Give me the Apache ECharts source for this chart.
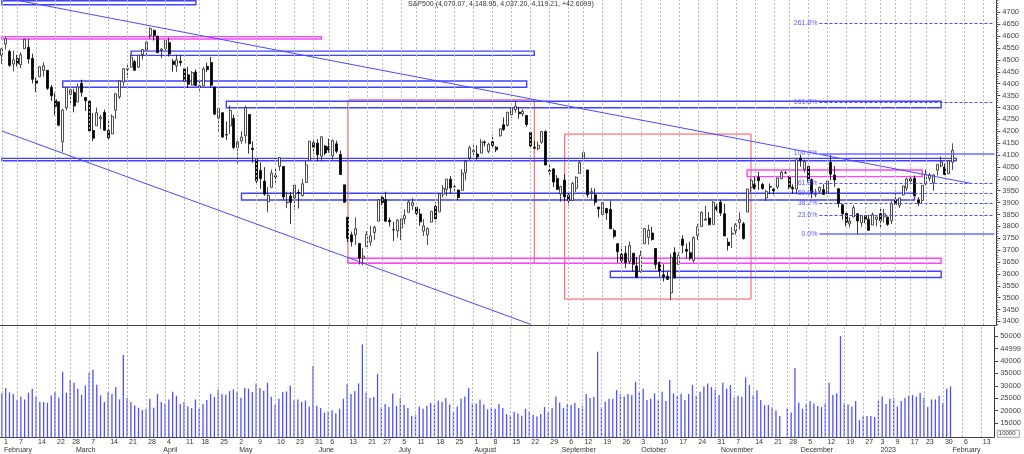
<!DOCTYPE html>
<html>
<head>
<meta charset="utf-8">
<script src="https://cdn.jsdelivr.net/npm/echarts@6/dist/echarts.min.js"></script>
<style>
  html, body { margin: 0; padding: 0; background: #fff; }
  #chart { width: 1024px; height: 454px; }
</style>
</head>
<body>
<div id="chart"></div>
<script>
// trading calendar: weekdays from first to last day minus exchange holidays
// (2023-01-12 is missing in the data feed of the original chart)
const firstDay = '2022-02-01';
const lastDay = '2023-02-16';
const closedDays = ['2022-02-21', '2022-04-15', '2022-05-30', '2022-06-20', '2022-07-04', '2022-09-05',
  '2022-11-24', '2022-12-26', '2023-01-02', '2023-01-16', '2023-01-12'];
const monthNames = ['January', 'February', 'March', 'April', 'May', 'June', 'July', 'August',
  'September', 'October', 'November', 'December'];

// S&P500 daily candles [open, high, low, close]
const candles = [
  // Feb 2022
  [4519.6, 4550.5, 4483.5, 4546.5], [4566.4, 4595.3, 4544.3, 4589.4], [4535.4, 4542.9, 4470.4, 4477.4], [4482.8, 4539.7, 4451.5, 4500.5],
  [4505.8, 4521.9, 4471.5, 4483.9], [4480.0, 4531.3, 4465.4, 4521.5], [4547.0, 4590.0, 4547.0, 4587.2], [4553.2, 4588.9, 4484.3, 4504.1],
  [4506.3, 4526.3, 4401.4, 4418.6], [4412.6, 4426.2, 4364.8, 4401.7], [4429.3, 4472.8, 4429.3, 4471.1], [4455.8, 4489.6, 4429.7, 4475.0],
  [4456.1, 4456.1, 4373.8, 4380.3], [4384.6, 4394.6, 4327.2, 4348.9], [4332.7, 4362.1, 4267.1, 4304.8], [4324.0, 4324.0, 4221.5, 4225.5],
  [4155.8, 4294.7, 4114.7, 4288.7], [4298.4, 4385.3, 4286.8, 4384.7], [4354.2, 4388.8, 4315.1, 4373.9],
  // Mar
  [4363.1, 4378.5, 4279.5, 4306.3], [4322.6, 4401.5, 4322.6, 4386.5], [4401.3, 4416.8, 4345.6, 4363.5], [4342.1, 4342.1, 4285.0, 4328.9],
  [4327.0, 4327.0, 4199.9, 4201.1], [4202.7, 4276.9, 4157.9, 4170.7], [4223.1, 4299.4, 4223.1, 4277.9], [4252.6, 4268.3, 4209.8, 4259.5],
  [4279.5, 4291.0, 4200.5, 4204.3], [4202.8, 4247.6, 4161.7, 4173.1], [4188.8, 4271.1, 4187.9, 4262.5], [4288.1, 4358.9, 4252.0, 4357.9],
  [4345.1, 4412.7, 4335.7, 4411.7], [4407.3, 4465.4, 4390.6, 4463.1], [4462.4, 4481.8, 4424.3, 4461.2], [4469.1, 4522.0, 4469.1, 4511.6],
  [4493.1, 4501.1, 4455.8, 4456.2], [4470.0, 4520.6, 4465.2, 4520.2], [4522.7, 4546.0, 4501.1, 4543.1], [4541.1, 4575.7, 4517.7, 4575.5],
  [4602.9, 4637.3, 4589.7, 4631.6], [4624.2, 4627.8, 4581.3, 4602.5], [4599.0, 4603.1, 4530.4, 4530.4],
  // Apr
  [4540.3, 4548.7, 4507.6, 4545.9], [4548.0, 4583.5, 4539.2, 4582.6], [4572.5, 4593.5, 4514.2, 4525.1], [4494.2, 4503.9, 4450.0, 4481.2],
  [4474.7, 4521.2, 4450.3, 4500.2], [4494.2, 4520.4, 4474.6, 4488.3], [4462.6, 4464.4, 4408.4, 4412.5], [4437.6, 4471.0, 4381.3, 4397.5],
  [4394.3, 4453.9, 4392.7, 4446.6], [4449.1, 4460.5, 4390.8, 4392.6], [4385.6, 4410.3, 4370.3, 4391.7], [4390.6, 4471.0, 4390.6, 4462.2],
  [4472.3, 4488.3, 4448.8, 4459.5], [4489.2, 4512.9, 4384.5, 4393.7], [4385.8, 4385.8, 4267.6, 4271.8], [4255.3, 4299.0, 4200.8, 4296.1],
  [4278.1, 4278.1, 4175.0, 4175.2], [4186.5, 4240.7, 4162.9, 4184.0], [4222.6, 4308.5, 4188.6, 4287.5], [4253.8, 4269.7, 4124.3, 4131.9],
  // May
  [4130.6, 4169.8, 4062.5, 4155.4], [4159.8, 4200.1, 4147.1, 4175.5], [4181.2, 4307.7, 4148.9, 4300.2], [4270.4, 4270.4, 4106.0, 4146.9],
  [4128.2, 4157.7, 4067.9, 4123.3], [4081.3, 4081.3, 3975.5, 3991.2], [4035.2, 4068.8, 3958.2, 4001.1], [3990.1, 4049.1, 3928.8, 3935.2],
  [3904.0, 3964.8, 3858.9, 3930.1], [3963.9, 4038.9, 3963.9, 4023.9], [4013.0, 4046.5, 3984.0, 4008.0], [4052.0, 4090.7, 4033.9, 4088.9],
  [4052.0, 4052.0, 3911.9, 3923.7], [3899.0, 3946.0, 3876.6, 3900.8], [3927.8, 3943.4, 3810.3, 3901.4], [3919.4, 3975.5, 3868.9, 3973.8],
  [3942.9, 3955.7, 3875.1, 3941.5], [3929.6, 3999.3, 3925.0, 3978.7], [3984.6, 4075.1, 3984.6, 4057.8], [4077.4, 4158.5, 4077.4, 4158.2],
  [4151.1, 4168.3, 4104.9, 4132.2],
  // Jun
  [4149.8, 4166.5, 4073.9, 4101.2], [4095.4, 4177.5, 4074.4, 4176.8], [4137.6, 4142.7, 4098.7, 4108.5], [4134.7, 4168.8, 4109.2, 4121.4],
  [4096.5, 4164.9, 4080.2, 4160.7], [4147.1, 4160.1, 4107.2, 4115.8], [4101.7, 4119.1, 4017.2, 4017.8], [3974.4, 3974.4, 3900.2, 3900.9],
  [3838.2, 3838.2, 3734.3, 3749.6], [3764.1, 3778.2, 3715.3, 3735.5], [3764.1, 3837.6, 3722.3, 3790.0], [3728.2, 3728.2, 3639.8, 3666.8],
  [3665.9, 3707.7, 3636.9, 3674.8], [3715.3, 3779.7, 3715.3, 3764.8], [3733.9, 3801.8, 3717.7, 3759.9], [3774.7, 3802.6, 3743.5, 3795.7],
  [3821.8, 3913.7, 3821.8, 3911.7], [3920.8, 3927.7, 3889.7, 3900.1], [3913.0, 3945.9, 3820.1, 3821.6], [3825.1, 3836.5, 3799.0, 3818.8],
  [3786.0, 3819.0, 3738.7, 3785.4],
  // Jul
  [3781.0, 3829.8, 3752.1, 3825.3], [3792.6, 3832.2, 3742.1, 3831.4], [3832.0, 3870.9, 3809.4, 3845.1], [3858.9, 3910.6, 3858.9, 3902.6],
  [3888.3, 3918.5, 3869.3, 3899.4], [3880.9, 3880.9, 3847.2, 3854.4], [3852.0, 3873.4, 3802.4, 3818.8], [3779.7, 3829.4, 3759.1, 3801.8],
  [3764.0, 3796.4, 3721.6, 3790.4], [3818.0, 3863.6, 3817.2, 3863.2], [3883.8, 3902.4, 3818.6, 3830.9], [3860.7, 3939.8, 3860.7, 3936.7],
  [3935.3, 3974.1, 3922.0, 3959.9], [3955.5, 3999.3, 3927.6, 3999.0], [3998.4, 4012.4, 3938.9, 3961.6], [3965.7, 3975.3, 3943.5, 3966.8],
  [3953.2, 3953.2, 3910.7, 3921.1], [3951.4, 4039.6, 3951.4, 4023.6], [4026.1, 4079.0, 3993.0, 4072.4], [4087.3, 4140.2, 4079.2, 4130.3],
  // Aug
  [4112.4, 4145.0, 4096.0, 4118.6], [4104.2, 4140.5, 4079.8, 4091.2], [4108.0, 4167.7, 4108.0, 4155.2], [4154.9, 4161.3, 4135.4, 4151.9],
  [4115.9, 4151.6, 4107.3, 4145.2], [4155.9, 4186.6, 4129.0, 4140.1], [4133.1, 4137.3, 4112.1, 4122.5], [4181.0, 4211.0, 4177.3, 4210.2],
  [4227.4, 4257.9, 4201.4, 4207.3], [4225.0, 4280.5, 4219.8, 4280.2], [4269.4, 4301.8, 4256.9, 4297.1], [4290.5, 4325.3, 4277.8, 4305.2],
  [4280.4, 4302.2, 4253.1, 4274.0], [4273.1, 4292.5, 4262.0, 4283.7], [4266.3, 4266.3, 4218.7, 4228.5], [4195.1, 4195.1, 4129.9, 4138.0],
  [4133.1, 4159.8, 4124.0, 4128.7], [4126.6, 4156.6, 4120.0, 4140.8], [4153.3, 4200.5, 4147.6, 4199.1], [4198.7, 4203.0, 4057.7, 4057.7],
  [4034.6, 4063.0, 4017.4, 4030.6], [4041.3, 4045.0, 3965.2, 3986.2], [4000.7, 4015.4, 3954.5, 3955.0],
  // Sep
  [3936.7, 3970.2, 3903.7, 3966.9], [3994.7, 4018.4, 3906.2, 3924.3], [3930.9, 3942.6, 3886.8, 3908.2], [3909.4, 3987.9, 3906.0, 3979.9],
  [3959.9, 4010.5, 3944.8, 4006.2], [4022.9, 4076.8, 4022.9, 4067.4], [4083.7, 4119.3, 4083.7, 4110.4], [4037.1, 4037.1, 3921.3, 3932.7],
  [3940.7, 3961.9, 3912.3, 3946.0], [3932.4, 3959.1, 3888.3, 3901.4], [3881.0, 3881.0, 3837.1, 3873.3], [3849.9, 3900.5, 3838.5, 3899.9],
  [3875.2, 3876.0, 3827.5, 3855.9], [3871.4, 3907.1, 3789.5, 3789.9], [3782.4, 3790.5, 3749.5, 3758.0], [3727.1, 3727.1, 3647.5, 3693.2],
  [3682.7, 3715.7, 3644.8, 3655.0], [3686.4, 3717.5, 3623.3, 3647.3], [3651.9, 3736.7, 3640.6, 3719.0], [3687.0, 3687.0, 3610.4, 3640.5],
  [3633.5, 3671.4, 3584.1, 3585.6],
  // Oct
  [3609.8, 3698.4, 3604.9, 3678.4], [3726.5, 3791.9, 3726.5, 3790.9], [3753.3, 3806.9, 3722.7, 3783.3], [3772.0, 3797.9, 3739.2, 3744.5],
  [3706.7, 3706.7, 3620.7, 3639.7], [3647.5, 3652.2, 3588.1, 3612.4], [3595.9, 3640.7, 3568.5, 3588.8], [3590.8, 3608.3, 3573.9, 3577.0],
  [3520.4, 3685.4, 3491.6, 3669.9], [3690.4, 3712.0, 3579.7, 3583.1], [3638.7, 3689.7, 3638.7, 3678.0], [3746.3, 3762.8, 3686.5, 3720.0],
  [3703.1, 3728.6, 3666.5, 3695.2], [3689.1, 3736.0, 3656.4, 3665.8], [3657.1, 3757.9, 3647.4, 3752.8], [3762.0, 3810.7, 3741.7, 3797.3],
  [3799.4, 3862.9, 3799.4, 3859.1], [3826.0, 3886.2, 3824.1, 3830.6], [3834.7, 3860.0, 3803.8, 3807.3], [3808.3, 3905.4, 3808.3, 3901.1],
  [3881.9, 3893.7, 3863.2, 3872.0],
  // Nov
  [3901.8, 3911.8, 3843.8, 3856.1], [3852.9, 3894.4, 3758.7, 3759.7], [3733.3, 3750.6, 3698.2, 3719.9], [3767.0, 3796.3, 3708.8, 3770.6],
  [3780.7, 3814.0, 3764.7, 3806.8], [3817.0, 3859.4, 3786.3, 3828.1], [3810.9, 3818.2, 3744.2, 3748.6], [3859.9, 3958.3, 3859.9, 3956.4],
  [3963.7, 4001.5, 3944.8, 3992.9], [3978.0, 4009.0, 3956.4, 3957.3], [4006.4, 4028.8, 3953.2, 3991.7], [3976.8, 3983.1, 3954.3, 3958.8],
  [3919.3, 3954.3, 3906.5, 3946.6], [3966.4, 3979.9, 3936.0, 3965.3], [3956.2, 3962.0, 3933.3, 3949.9], [3965.5, 4005.9, 3956.9, 4003.6],
  [4000.3, 4033.8, 3998.7, 4027.3], [4023.3, 4034.0, 4020.8, 4026.1], [4005.4, 4012.3, 3955.8, 3963.9], [3964.2, 3976.8, 3937.7, 3957.6],
  [3957.2, 4080.1, 3938.6, 4080.1],
  // Dec
  [4087.1, 4100.5, 4050.9, 4076.6], [4040.2, 4080.5, 4026.6, 4071.7], [4052.0, 4052.5, 3984.5, 3998.8], [3996.6, 4001.5, 3918.4, 3941.3],
  [3933.3, 3957.6, 3922.7, 3933.9], [3947.8, 3966.4, 3935.8, 3963.5], [3954.2, 3977.0, 3933.0, 3934.4], [3939.3, 3990.7, 3935.3, 3990.6],
  [4069.4, 4101.0, 3993.0, 4019.7], [4015.5, 4053.8, 3965.7, 3995.3], [3958.4, 3958.4, 3879.5, 3895.8], [3890.9, 3890.9, 3827.9, 3852.4],
  [3853.8, 3854.9, 3800.0, 3817.7], [3810.5, 3838.2, 3795.6, 3821.6], [3839.5, 3889.3, 3839.5, 3878.4], [3853.3, 3853.3, 3764.5, 3822.4],
  [3815.1, 3845.8, 3797.0, 3844.8], [3843.3, 3846.7, 3813.2, 3829.3], [3829.6, 3848.3, 3780.8, 3783.2], [3805.5, 3858.2, 3805.5, 3849.3],
  [3829.1, 3839.9, 3800.3, 3839.5],
  // Jan 2023
  [3853.3, 3878.5, 3794.3, 3824.1], [3840.4, 3873.2, 3815.8, 3853.0], [3839.7, 3839.7, 3802.4, 3808.1], [3823.4, 3906.2, 3809.6, 3895.1],
  [3910.8, 3950.6, 3890.4, 3892.1], [3888.6, 3919.8, 3877.3, 3919.3], [3932.4, 3970.1, 3928.5, 3969.6], [3960.6, 4004.0, 3947.7, 3999.1],
  [3999.3, 4015.4, 3984.6, 3991.0], [4002.3, 4014.2, 3926.6, 3928.9], [3911.8, 3922.9, 3885.5, 3898.9], [3909.0, 3973.0, 3897.9, 3972.6],
  [3978.1, 4039.3, 3971.6, 4019.8], [4001.7, 4023.9, 3989.8, 4017.0], [3982.7, 4019.6, 3949.1, 4016.2], [4036.1, 4061.6, 4013.3, 4060.4],
  [4053.7, 4094.2, 4048.7, 4070.6], [4049.3, 4063.9, 4015.6, 4017.8], [4020.9, 4077.2, 4020.4, 4076.6],
  // Feb 1 2023
  [4070.07, 4148.95, 4037.20, 4119.21]
];

// daily volume (same order as candles)
const volumes = [
  27000, 29080, 27340, 26660, 24250, 25730, 24520, 27200, 28810, 25460, 23450, 23450, 23180, 26130, 27600, 25190, 35650, 27200, 32300,
  31220, 28810, 26400, 30150, 35250, 36590, 30420, 26130, 23450, 27600, 26660, 29480, 24520, 42360, 25060, 23450, 22110, 21170, 20230, 20500, 24790, 21170, 26660,
  23450, 22910, 24520, 27600, 26000, 22640, 23450, 21700, 21030, 24520, 20770, 22640, 24250, 26660, 25460, 28410, 26660, 26400, 27870, 28540,
  27600, 25190, 29080, 28880, 27470, 30960, 29080, 27870, 31220, 25590, 22380, 24790, 27470, 27740, 30020, 24120, 24520, 23450, 24120, 21700, 37930,
  21970, 21030, 19160, 19560, 20100, 18890, 20770, 24790, 30690, 26660, 27870, 30960, 46650, 27070, 25060, 25460, 34710, 21570, 22640, 21440, 26930,
  21970, 25060, 22240, 21030, 17950, 18490, 21700, 20770, 21970, 23180, 22240, 24120, 23450, 25060, 22510, 19830, 21700, 24790, 25730, 29080,
  23180, 22910, 24520, 22510, 20500, 21440, 20770, 22640, 21030, 18620, 18080, 19420, 18890, 17950, 20770, 19830, 18220, 17680, 18620, 21440, 19290, 21030, 25730,
  23180, 21030, 22640, 22240, 23180, 21030, 21840, 26660, 25060, 25460, 43700, 21440, 23580, 24790, 24790, 28280, 26660, 25730, 26660, 26270, 31630,
  27600, 28810, 24250, 24790, 26930, 24250, 27600, 23850, 32300, 26930, 26130, 26660, 24250, 26660, 30290, 26130, 27600, 29750, 30960, 29480, 28280,
  26270, 31220, 28810, 30290, 25190, 26000, 25590, 33370, 30290, 26270, 28140, 24250, 22240, 22240, 21440, 20100, 17820, 9500, 21030, 19290, 37130,
  23180, 20770, 22910, 23850, 22910, 21840, 21440, 23180, 31220, 26270, 26930, 50000, 23180, 22510, 21700, 23850, 16200, 18080, 17820, 17820, 17410,
  23850, 25730, 22640, 24790, 25060, 21700, 23850, 25060, 26000, 26270, 25590, 27200, 25060, 21440, 24520, 24520, 26000, 23180, 28810,
  29750
];

// drawn studies: horizontal zones [from, to, low, high]
const blueZones = [
  ['2022-02-01', '2022-04-14', 4732, 4749],
  ['2022-03-22', '2022-08-23', 4519, 4537],
  ['2022-02-24', '2022-08-19', 4385, 4411],
  ['2022-04-27', '2023-01-27', 4299, 4326],
  ['2022-02-01', '2023-02-02', 4076, 4086],
  ['2022-05-03', '2023-01-18', 3911, 3939],
  ['2022-09-21', '2023-01-27', 3585, 3611]
];
const pinkZones = [
  ['2022-02-01', '2022-06-02', 4588, 4598],
  ['2022-11-10', '2023-01-20', 4009, 4037],
  ['2022-06-13', '2023-01-27', 3645, 3666]
];
const redBoxes = [
  ['2022-06-13', '2022-08-23', 3645, 4332],
  ['2022-09-02', '2022-11-11', 3494, 4188]
];
const trendLines = [
  [['2022-02-07', 4751], ['2023-02-08', 3980]],
  [['2022-02-01', 4201], ['2022-08-22', 3388]]
];
// fibonacci retracement from 2022-12-22 low to 2022-12-13 high
const fibStart = '2022-12-08';
const fibEnd = '2023-02-16';
const fibLabels = ['261.8%', '161.8%', '100.0%', '61.8%', '50.0%', '38.2%', '23.6%', '0.0%'];
const fibValues = [4656, 4322, 4107, 3981, 3939, 3897, 3848, 3767];

const priceTicks = [];
for (let v = 3400; v <= 4700; v += 50) priceTicks.push(v);
const priceMinorTicks = [];
for (let v = 3390; v <= 4750; v += 10) priceMinorTicks.push(v);
const volumeTicks = [15000, 20000, 25000, 30000, 35000, 40000, 44999, 50000];

const titleText = 'S&P500 (4,070.07, 4,148.95, 4,037.20, 4,119.21, +42.6099)';

// ---------------------------------------------------------------
const dates = [];
for (let t = Date.parse(firstDay); t <= Date.parse(lastDay); t += 864e5) {
  const d = new Date(t);
  const s = d.toISOString().slice(0, 10);
  if (d.getUTCDay() === 0 || d.getUTCDay() === 6 || closedDays.includes(s)) continue;
  dates.push(s);
}
const dayMs = s => Date.parse(s);
const isWeekStart = i => {
  if (i === 0) return true;
  const a = new Date(dates[i - 1]).getUTCDay(), b = new Date(dates[i]).getUTCDay();
  return b <= a || dayMs(dates[i]) - dayMs(dates[i - 1]) > 6 * 864e5;
};
const isMonthStart = i => i === 0 || dates[i].slice(0, 7) !== dates[i - 1].slice(0, 7);
const weekIdx = dates.map((d, i) => i).filter(isWeekStart);

const FONT = '"Liberation Sans", Arial, sans-serif';
const gridLines = {
  silent: true, symbol: ['none', 'none'], label: { show: false },
  lineStyle: { color: '#b8b8b8', type: [2, 2], width: 1 },
  emphasis: { disabled: true },
  data: weekIdx.map(i => ({ xAxis: dates[i] }))
};
const zoneItem = (z, color, w) => [
  { coord: [z[0], z[2]], itemStyle: { color: 'rgba(0,0,0,0)', borderColor: color, borderWidth: w } },
  { coord: [z[1], z[3]] }
];

const chart = echarts.init(document.getElementById('chart'));
chart.setOption({
  animation: false,
  backgroundColor: '#fff',
  title: {
    text: titleText, left: 408, top: 1, padding: 0,
    textStyle: { fontSize: 7, fontWeight: 'normal', color: '#333', fontFamily: FONT }
  },
  grid: [
    { left: -4.1, width: 1000.4, top: 0, height: 325 },
    { left: -4.1, width: 1000.4, top: 327, height: 110 }
  ],
  xAxis: [
    {
      type: 'category', gridIndex: 0, data: dates,
      axisLine: { lineStyle: { color: '#444' } }, axisTick: { show: false }, axisLabel: { show: false }, splitLine: { show: false }
    },
    {
      type: 'category', gridIndex: 1, data: dates, position: 'bottom',
      axisLine: { lineStyle: { color: '#444' } },
      axisTick: { alignWithLabel: true, interval: isWeekStart, length: 8, lineStyle: { color: '#555' } },
      axisLabel: {
        interval: isWeekStart, align: 'left', padding: [0, 0, 0, 2], margin: 2,
        fontSize: 7, color: '#333', fontFamily: FONT,
        formatter: v => String(+v.slice(8, 10))
      },
      splitLine: { show: false }
    },
    {
      type: 'category', gridIndex: 1, data: dates, position: 'bottom',
      axisLine: { show: false },
      axisTick: { alignWithLabel: true, interval: isMonthStart, length: 17, lineStyle: { color: '#555' } },
      axisLabel: {
        interval: isMonthStart, align: 'left', padding: [0, 0, 0, 2], margin: 10,
        fontSize: 7, color: '#333', fontFamily: FONT,
        formatter: v => v.slice(5, 7) === '01' ? v.slice(0, 4) : monthNames[+v.slice(5, 7) - 1]
      },
      splitLine: { show: false }
    }
  ],
  yAxis: [
    {
      type: 'value', gridIndex: 0, position: 'right', min: 3385, max: 4752, scale: true,
      axisLine: { show: true, lineStyle: { color: '#333' } },
      axisTick: { show: true, length: 4, customValues: priceTicks, lineStyle: { color: '#444' } },
      axisLabel: { customValues: priceTicks, formatter: v => String(v), margin: 6, fontSize: 7.5, color: '#444', fontFamily: FONT },
      splitLine: { show: false }
    },
    {
      type: 'value', gridIndex: 0, position: 'right', min: 3385, max: 4752,
      axisLine: { show: false },
      axisTick: { show: true, length: 2, customValues: priceMinorTicks, lineStyle: { color: '#666' } },
      axisLabel: { show: false }, splitLine: { show: false }
    },
    {
      type: 'value', gridIndex: 1, position: 'right', min: 9400, max: 53650,
      axisLine: { show: true, lineStyle: { color: '#333' } },
      axisTick: { show: true, length: 4, customValues: volumeTicks, lineStyle: { color: '#444' } },
      axisLabel: { customValues: volumeTicks, formatter: v => String(v), margin: 6, fontSize: 7.5, color: '#444', fontFamily: FONT },
      splitLine: { show: false }
    }
  ],
  series: [
    {
      type: 'line', xAxisIndex: 0, yAxisIndex: 0, data: dates.map(() => null),
      silent: true, z: 1, markLine: gridLines
    },
    {
      type: 'line', xAxisIndex: 1, yAxisIndex: 2, data: dates.map(() => null),
      silent: true, z: 1, markLine: gridLines
    },
    {
      type: 'bar', xAxisIndex: 1, yAxisIndex: 2, data: volumes, barWidth: 1.3,
      itemStyle: { color: '#5050ff' }, z: 3
    },
    {
      type: 'candlestick', xAxisIndex: 0, yAxisIndex: 0, z: 3,
      data: candles.map(c => [c[0], c[3], c[2], c[1]]),
      barWidth: 2.5,
      itemStyle: { color: '#ffffff', color0: '#000000', borderColor: '#222', borderColor0: '#000', borderWidth: 0.8 },
      markArea: {
        silent: true,
        label: { show: false },
        data: [
          ...redBoxes.map(z => zoneItem(z, '#ff5050', 1)),
          ...blueZones.map(z => zoneItem(z, '#4040ff', 1.4)),
          ...pinkZones.map(z => zoneItem(z, '#ff40ff', 1.4))
        ]
      },
      markLine: {
        silent: true, symbol: ['none', 'none'], precision: 1,
        label: { show: false },
        data: [
          ...trendLines.map(l => [
            { coord: l[0], lineStyle: { color: '#4a4aff', width: 1, type: 'solid' }, label: { show: false } },
            { coord: l[1] }
          ]),
          ...fibValues.map((v, k) => {
            const solid = fibLabels[k] === '100.0%' || fibLabels[k] === '0.0%';
            return [
              {
                coord: [fibStart, v],
                lineStyle: { color: solid ? '#6a6aff' : '#4a4aff', width: solid ? 1.5 : 1, type: solid ? 'solid' : [3, 2] },
                label: {
                  show: true, position: 'start', distance: 2, formatter: fibLabels[k],
                  fontSize: 7, color: '#5a5aff', fontFamily: FONT
                }
              },
              { coord: [fibEnd, v] }
            ];
          })
        ]
      }
    }
  ],
  graphic: [
    {
      type: 'group', left: 997, top: 430,
      children: [
        { type: 'rect', shape: { x: 0, y: 0, width: 22, height: 7 }, style: { fill: '#fff', stroke: '#666', lineWidth: 0.6 } },
        { type: 'text', x: 1.5, y: 0.5, style: { text: '10000', fontSize: 6, fill: '#333', fontFamily: FONT } }
      ]
    }
  ]
});
window.addEventListener('resize', function () { chart.resize(); });
</script>
</body>
</html>
